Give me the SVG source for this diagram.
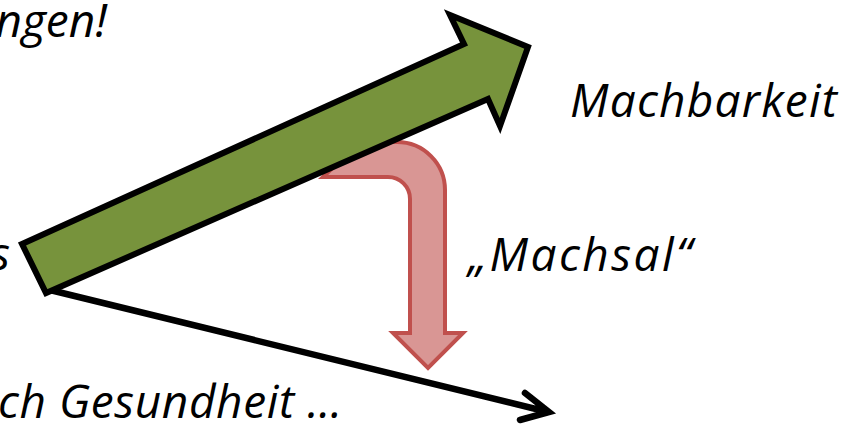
<svg xmlns="http://www.w3.org/2000/svg" width="858" height="424" viewBox="0 0 858 424">
  <style>
    .t { font-family: "Open Sans", "Noto Sans", "DejaVu Sans", sans-serif; font-style: italic; font-size: 46px; fill: #000; }
  </style>
  <rect width="858" height="424" fill="#ffffff"/>
  <g id="connectors">
    <path id="black-arrow" d="M50 290 L548 412 M525 393 L549 412 L520 420" fill="none" stroke="#000" stroke-width="6.5" stroke-linecap="round" stroke-linejoin="miter"/>
  </g>
  <g id="machsal-arrow">
    <path d="M397 142 A48 48 0 0 1 445 190 L445 333 L463 333 L428 368 L393 333 L410 333 L410 199 A22 22 0 0 0 388 177 L323 177 L360 142 Z" fill="#D99694" stroke="#C0504D" stroke-width="4" stroke-linejoin="miter"/>
  </g>
  <g id="green-arrow">
    <path d="M22 244 L464 44 L450 15 L528 47 L500 126 L488 99 L46 293 Z" fill="#77933C" stroke="#000" stroke-width="6" stroke-linejoin="miter"/>
  </g>
  <g id="labels">
    <text class="t" x="107" y="37" text-anchor="end">ngen!</text>
    <text class="t" x="10" y="270" text-anchor="end">s</text>
    <text class="t" x="570" y="117" textLength="267">Machbarkeit</text>
    <text class="t" x="468" y="271" textLength="224">„Machsal“</text>
    <text class="t" x="-2" y="418" textLength="344">ch Gesundheit …</text>
  </g>
</svg>
